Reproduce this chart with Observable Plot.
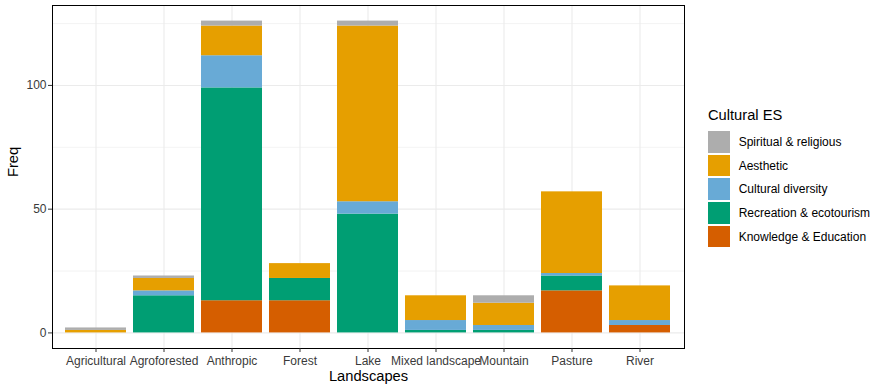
<!DOCTYPE html>
<html>
<head>
<meta charset="utf-8">
<script src="https://cdn.jsdelivr.net/npm/d3@7"></script>
<script src="https://cdn.jsdelivr.net/npm/@observablehq/plot@0.6"></script>
<style>
  body { margin: 0; background: #fff; }
  #wrap { position: relative; width: 877px; height: 387px; font-family: "Liberation Sans", Arial, Helvetica, sans-serif; }
  #legend { position: absolute; left: 708px; top: 105px; }
  #legend .title { font-size: 14.7px; color: #000; height: 25px; line-height: 20px; }
  #legend .item { display: flex; align-items: center; height: 23.7px; }
  #legend .key { width: 22px; height: 21.7px; margin-right: 8.7px; }
  #legend .lab { font-size: 12px; color: #000; }
</style>
</head>
<body>
<div id="wrap"></div>
<script>
const landscapes = ["Agricultural","Agroforested","Anthropic","Forest","Lake","Mixed landscape","Mountain","Pasture","River"];
const services = ["Knowledge & Education","Recreation & ecotourism","Cultural diversity","Aesthetic","Spiritual & religious"];
const serviceColors = ["#D55E00","#009E73","#68AAD6","#E69F00","#ADADAD"];
const knowledge        = [0, 0, 13, 13, 0, 0, 0, 17, 3];
const recreation       = [0, 15, 86, 9, 48, 1, 1, 6, 0];
const culturalDiversity= [0, 2, 13, 0, 5, 4, 2, 1, 2];
const aesthetic        = [1, 5, 12, 6, 71, 10, 9, 33, 14];
const spiritual        = [1, 1, 2, 0, 2, 0, 3, 0, 0];
const yTicks = [0, 50, 100];
const yMinor = [25, 75, 125];

const series = [knowledge, recreation, culturalDiversity, aesthetic, spiritual];
const data = [];
services.forEach((s, i) => {
  landscapes.forEach((l, j) => {
    if (series[i][j] > 0) data.push({landscape: l, service: s, value: series[i][j]});
  });
});

const font = "'Liberation Sans', Arial, Helvetica, sans-serif";
const chart = Plot.plot({
  width: 877,
  height: 387,
  marginLeft: 52,
  marginRight: 193,
  marginTop: 5,
  marginBottom: 39,
  style: {fontFamily: font, background: "#fff"},
  x: {domain: landscapes, paddingInner: 0.1, paddingOuter: 0.15, axis: null},
  y: {domain: [-6.3, 132.3], axis: null},
  color: {domain: services, range: serviceColors},
  marks: [
    Plot.gridY(yMinor, {stroke: "#EBEBEB", strokeOpacity: 1, strokeWidth: 0.6}),
    Plot.gridY(yTicks, {stroke: "#EBEBEB", strokeOpacity: 1, strokeWidth: 1.1}),
    Plot.gridX(landscapes, {stroke: "#EBEBEB", strokeOpacity: 1, strokeWidth: 1.1}),
    Plot.barY(data, {x: "landscape", y: "value", fill: "service", order: services}),
    Plot.frame({stroke: "#000", strokeWidth: 1}),
    Plot.axisY(yTicks, {tickSize: 4, tickPadding: 2, fontSize: 12, fill: "#3A3A3A", stroke: "#333", label: null}),
    Plot.axisX(landscapes, {tickSize: 4, tickPadding: 4, fontSize: 12, fill: "#3A3A3A", stroke: "#333", label: null}),
    Plot.text(["Freq"], {text: d => d, frameAnchor: "left", dx: -39, rotate: -90, fontSize: 14.7, fontWeight: "normal", fill: "#000"}),
    Plot.text(["Landscapes"], {text: d => d, frameAnchor: "bottom", dy: 32, fontSize: 14.7, fontWeight: "normal", fill: "#000"})
  ]
});

const wrap = document.getElementById("wrap");
wrap.appendChild(chart);

const legend = document.createElement("div");
legend.id = "legend";
const title = document.createElement("div");
title.className = "title";
title.textContent = "Cultural ES";
legend.appendChild(title);
for (let i = services.length - 1; i >= 0; i--) {
  const item = document.createElement("div");
  item.className = "item";
  const key = document.createElement("div");
  key.className = "key";
  key.style.background = serviceColors[i];
  const lab = document.createElement("div");
  lab.className = "lab";
  lab.textContent = services[i];
  item.appendChild(key);
  item.appendChild(lab);
  legend.appendChild(item);
}
wrap.appendChild(legend);
</script>
</body>
</html>
